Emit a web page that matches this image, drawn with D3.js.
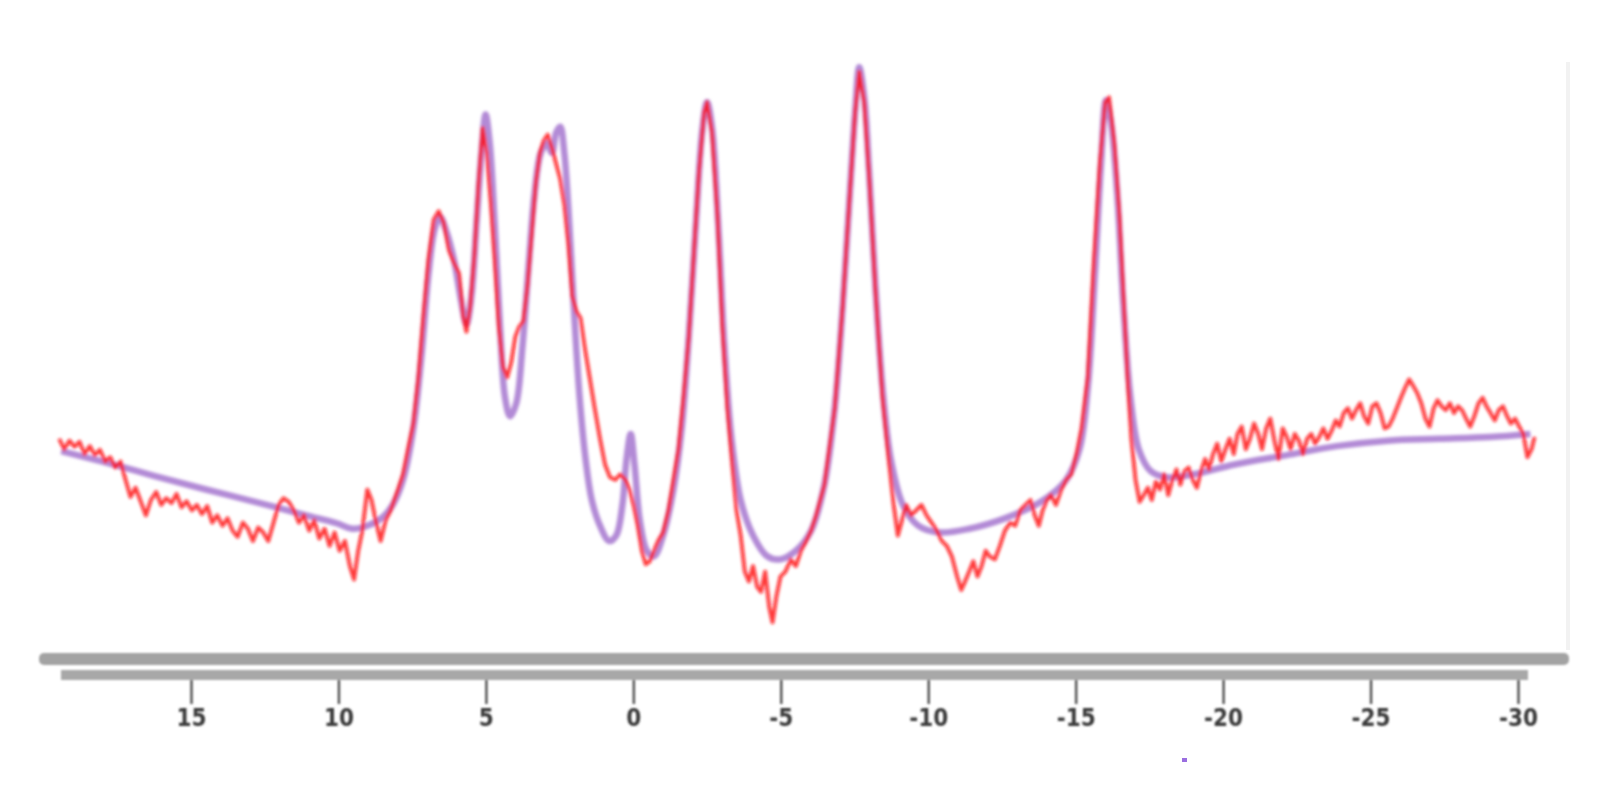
<!DOCTYPE html>
<html>
<head>
<meta charset="utf-8">
<script src="https://cdn.jsdelivr.net/npm/d3@7"></script>
<style>
  html, body { margin: 0; padding: 0; background: #ffffff; }
  svg { display: block; }
</style>
</head>
<body>
<svg id="chart" width="1600" height="800"></svg>
<script>
// Chemical shift (ppm) tick labels
const tickValues = [15, 10, 5, 0, -5, -10, -15, -20, -25, -30];

// Fitted spectrum: [shift ppm, intensity]
const fitted = [
  [19.40,33.0],[18.02,31.3],[16.29,29.0],[14.56,26.8],[12.83,24.7],[11.10,22.5],[10.06,21.2],[9.54,20.3],
  [9.02,20.8],[8.50,22.2],[8.16,24.2],[7.81,28.3],[7.46,36.7],[7.19,48.3],[6.95,61.7],[6.74,69.2],
  [6.56,71.3],[6.36,69.2],[6.08,64.2],[5.84,57.5],[5.66,53.7],[5.49,58.3],[5.32,70.0],[5.15,81.7],
  [5.01,88.0],[4.87,83.3],[4.70,70.0],[4.52,53.3],[4.35,41.7],[4.18,38.7],[3.97,40.8],[3.76,50.0],
  [3.55,63.3],[3.35,75.0],[3.14,81.7],[2.93,83.3],[2.76,81.7],[2.62,85.0],[2.48,86.0],[2.34,81.7],
  [2.17,70.0],[2.00,55.0],[1.82,41.7],[1.62,31.7],[1.41,25.0],[1.13,20.8],[0.82,18.3],[0.58,19.2],
  [0.37,24.2],[0.23,31.7],[0.09,35.8],[-0.04,30.8],[-0.22,21.7],[-0.46,16.7],[-0.70,15.8],[-1.01,19.2],
  [-1.36,26.7],[-1.64,36.7],[-1.88,51.7],[-2.12,70.0],[-2.33,85.0],[-2.50,90.0],[-2.67,85.8],[-2.88,70.0],
  [-3.09,50.0],[-3.33,35.0],[-3.64,25.0],[-4.06,19.2],[-4.54,15.8],[-4.99,15.3],[-5.51,16.7],[-6.03,20.0],
  [-6.48,27.5],[-6.83,40.0],[-7.10,56.7],[-7.34,75.0],[-7.52,88.3],[-7.66,95.7],[-7.83,90.8],[-8.00,78.3],
  [-8.21,60.0],[-8.45,43.3],[-8.73,31.7],[-9.14,24.2],[-9.66,20.8],[-10.35,19.7],[-11.39,20.3],[-12.60,22.0],
  [-13.82,24.7],[-14.68,28.3],[-15.13,33.3],[-15.41,43.3],[-15.65,61.7],[-15.86,80.0],[-16.03,90.3],[-16.20,86.7],
  [-16.41,75.0],[-16.62,56.7],[-16.86,41.7],[-17.14,33.3],[-17.55,29.7],[-18.14,28.7],[-19.00,29.2],[-20.39,30.8],
  [-22.12,32.3],[-23.85,33.8],[-25.58,34.7],[-27.31,35.0],[-29.04,35.3],[-30.42,35.8]
];

// Measured spectrum: [shift ppm, intensity]
const measured = [
  [19.47,35.0],[19.30,33.3],[19.12,34.7],[18.95,33.7],[18.78,34.5],[18.61,32.5],[18.43,33.8],[18.26,32.3],
  [18.09,33.2],[17.91,31.3],[17.74,32.0],[17.57,30.3],[17.39,31.3],[17.22,28.3],[17.05,25.5],[16.88,27.0],
  [16.70,24.7],[16.53,22.5],[16.36,25.0],[16.18,26.3],[16.01,24.2],[15.84,25.3],[15.66,24.5],[15.49,26.0],
  [15.32,23.8],[15.15,24.8],[14.97,23.3],[14.80,24.2],[14.63,22.7],[14.45,24.0],[14.28,21.3],[14.11,22.5],
  [13.93,20.8],[13.76,22.0],[13.59,20.0],[13.42,19.0],[13.24,21.3],[13.07,20.3],[12.90,18.3],[12.72,20.5],
  [12.55,19.7],[12.38,18.3],[12.20,21.3],[12.03,24.2],[11.86,25.3],[11.69,24.7],[11.51,23.3],[11.34,21.3],
  [11.17,22.5],[10.99,20.0],[10.82,21.7],[10.65,18.7],[10.47,20.3],[10.30,17.5],[10.13,19.7],[9.96,16.7],
  [9.78,18.3],[9.61,14.2],[9.47,12.0],[9.33,16.7],[9.19,20.0],[9.02,26.7],[8.88,25.0],[8.74,21.7],
  [8.57,18.3],[8.40,21.7],[8.23,23.3],[7.98,26.7],
  [7.81,29.2],[7.64,33.3],[7.46,37.5],[7.29,45.0],[7.12,55.0],[6.95,64.2],[6.77,70.8],[6.60,72.2],
  [6.43,70.3],[6.25,65.8],[6.08,63.7],[5.91,62.0],[5.77,55.0],[5.66,52.5],[5.53,56.7],[5.39,65.0],
  [5.25,76.7],[5.11,85.8],[4.97,81.7],[4.83,73.3],[4.70,64.2],[4.56,53.3],[4.42,46.7],[4.28,45.0],
  [4.14,47.5],[4.00,51.7],[3.87,53.3],[3.73,54.2],[3.59,60.0],[3.45,68.3],[3.31,76.7],[3.17,81.7],
  [3.04,83.7],[2.90,84.7],[2.76,82.5],[2.62,80.0],[2.48,77.5],[2.34,73.3],[2.20,66.7],[2.07,58.3],
  [1.93,55.8],[1.79,54.7],[1.65,50.0],[1.48,45.0],[1.31,40.0],[1.13,35.0],[0.96,30.8],[0.79,28.7],
  [0.61,28.3],[0.44,29.2],[0.27,28.3],[0.13,26.7],[-0.01,24.2],[-0.15,20.8],[-0.29,16.7],[-0.42,14.5],
  [-0.56,15.0],[-0.70,16.7],[-0.84,18.3],[-1.01,19.7],[-1.19,23.3],[-1.36,28.3],[-1.53,33.3],[-1.70,41.7],
  [-1.88,51.7],[-2.05,65.0],[-2.22,78.3],[-2.40,88.3],[-2.50,90.0],[-2.67,85.0],[-2.85,71.7],[-3.02,53.3],
  [-3.19,40.0],[-3.37,30.0],[-3.50,23.3],[-3.64,19.2],[-3.78,13.3],[-3.92,11.7],[-4.06,14.2],[-4.20,10.8],
  [-4.33,10.0],[-4.47,13.3],[-4.61,7.5],[-4.72,5.0],[-4.85,9.2],[-4.99,12.5],[-5.16,13.3],[-5.34,15.3],
  [-5.51,14.2],[-5.68,16.7],[-5.86,18.3],[-6.03,20.0],[-6.20,22.5],[-6.48,27.5],[-6.83,40.0],[-7.10,56.7],
  [-7.34,75.0],[-7.52,88.3],[-7.66,95.0],[-7.83,90.0],[-8.00,77.5],[-8.21,59.2],[-8.45,41.7],[-8.66,31.7],
  [-8.83,24.2],[-8.97,19.2],[-9.11,21.7],[-9.25,24.2],[-9.42,22.5],[-9.59,23.3],[-9.77,24.2],[-9.94,22.5],
  [-10.11,21.3],[-10.29,20.0],[-10.46,18.3],[-10.63,17.5],[-10.80,15.8],[-10.98,12.5],[-11.12,10.3],[-11.25,11.7],
  [-11.39,13.3],[-11.53,15.0],[-11.67,12.5],[-11.81,14.2],[-11.95,16.7],[-12.08,15.8],[-12.26,15.3],[-12.43,17.5],
  [-12.60,20.0],[-12.78,21.3],[-12.95,20.8],[-13.12,23.3],[-13.30,24.2],[-13.47,25.0],[-13.61,22.5],[-13.75,20.8],
  [-13.88,23.3],[-14.02,25.0],[-14.16,25.8],[-14.33,24.2],[-14.51,26.7],[-14.68,28.3],[-14.85,29.2],[-15.03,32.5],
  [-15.20,36.7],[-15.41,45.0],[-15.61,63.3],[-15.82,80.0],[-16.00,90.0],[-16.13,90.8],[-16.31,83.3],[-16.48,71.7],
  [-16.62,58.3],[-16.76,45.0],[-16.89,35.0],[-17.03,28.3],[-17.17,24.7],[-17.31,25.8],[-17.45,27.0],[-17.58,25.0],
  [-17.72,28.0],[-17.86,26.7],[-18.00,29.2],[-18.14,25.8],[-18.28,28.3],[-18.42,30.0],[-18.55,27.5],[-18.69,29.7],
  [-18.83,30.3],[-18.97,28.3],[-19.11,27.0],[-19.25,29.7],[-19.39,31.7],[-19.52,30.0],[-19.66,32.5],[-19.80,34.2],
  [-19.94,31.3],[-20.08,33.3],[-20.22,35.0],[-20.36,32.5],[-20.49,35.8],[-20.63,37.0],[-20.77,33.3],[-20.91,35.0],
  [-21.05,37.5],[-21.19,35.8],[-21.32,33.3],[-21.46,36.7],[-21.60,38.3],[-21.74,34.7],[-21.88,31.7],[-22.02,36.7],
  [-22.16,35.3],[-22.29,33.3],[-22.43,35.8],[-22.57,34.7],[-22.71,32.5],[-22.85,35.0],[-22.99,35.8],[-23.12,34.2],
  [-23.26,35.3],[-23.40,36.7],[-23.54,35.0],[-23.68,36.3],[-23.82,38.0],[-23.95,37.0],[-24.09,39.2],[-24.23,40.0],
  [-24.37,38.3],[-24.51,39.7],[-24.65,40.8],[-24.78,38.7],[-24.92,37.5],[-25.06,40.3],[-25.20,40.8],[-25.34,39.2],
  [-25.48,36.7],[-25.61,37.0],[-25.75,38.3],[-25.89,40.0],[-26.03,41.7],[-26.17,43.3],[-26.31,44.7],[-26.44,43.7],
  [-26.58,42.5],[-26.72,40.8],[-26.86,38.3],[-27.00,37.0],[-27.14,40.0],[-27.27,41.3],[-27.41,40.3],[-27.55,39.7],
  [-27.69,40.8],[-27.83,39.2],[-27.97,40.3],[-28.10,39.7],[-28.24,38.3],[-28.38,37.0],[-28.52,38.7],[-28.66,40.8],
  [-28.80,41.7],[-28.93,40.3],[-29.07,39.2],[-29.21,38.0],[-29.35,39.7],[-29.49,40.3],[-29.63,38.7],[-29.76,37.5],
  [-29.90,38.3],[-30.04,37.0],[-30.18,35.8],[-30.32,32.0],[-30.46,33.3],[-30.56,35.3]
];

const svg = d3.select("#chart");

const defs = svg.append("defs");
defs.append("filter").attr("id", "soft").attr("x", "-5%").attr("y", "-5%").attr("width", "110%").attr("height", "110%")
  .append("feGaussianBlur").attr("stdDeviation", 1.5);
defs.append("filter").attr("id", "softer").attr("x", "-5%").attr("y", "-50%").attr("width", "110%").attr("height", "200%")
  .append("feGaussianBlur").attr("stdDeviation", 1.1);

const x = d3.scaleLinear().domain([15, -30]).range([191, 1518]);
const y = d3.scaleLinear().domain([0, 100]).range([653, 41]);

// faint right frame line
svg.append("line")
  .attr("x1", 1568).attr("x2", 1568).attr("y1", 62).attr("y2", 650)
  .attr("stroke", "#f2f2f2").attr("stroke-width", 4);

const plot = svg.append("g").attr("filter", "url(#soft)");

plot.append("path")
  .datum(fitted)
  .attr("fill", "none")
  .attr("stroke", "#b28ad6")
  .attr("stroke-width", 6.5)
  .attr("stroke-linejoin", "round")
  .attr("d", d3.line().x(d => x(d[0])).y(d => y(d[1])).curve(d3.curveCatmullRom.alpha(0.5)));

plot.append("path")
  .datum(measured)
  .attr("fill", "none")
  .attr("stroke", "#ff0a14")
  .attr("stroke-opacity", 0.82)
  .attr("stroke-width", 3.8)
  .attr("stroke-linejoin", "round")
  .attr("d", d3.line().x(d => x(d[0])).y(d => y(d[1])));

// axis: double gray bar, ticks and labels
const axisG = svg.append("g").attr("filter", "url(#softer)");
axisG.append("rect").attr("x", 39).attr("y", 653).attr("width", 1530).attr("height", 12)
  .attr("rx", 5).attr("fill", "#a3a3a3");
axisG.append("rect").attr("x", 61).attr("y", 670).attr("width", 1467).attr("height", 10)
  .attr("fill", "#a8a8a8");

const axis = d3.axisBottom(x)
  .tickValues(tickValues)
  .tickSize(24)
  .tickPadding(5)
  .tickFormat(d => String(d));

const ax = axisG.append("g").attr("transform", "translate(0,680)").call(axis);
ax.select(".domain").remove();
ax.selectAll(".tick line").attr("stroke", "#555").attr("stroke-width", 2.5);
ax.selectAll(".tick text")
  .attr("fill", "#3a3a3a")
  .attr("font-family", "'Liberation Sans Narrow', 'DejaVu Sans Condensed', sans-serif")
  .attr("font-weight", "bold")
  .attr("font-size", 24);

// tiny stray legend mark
svg.append("rect").attr("x", 1182).attr("y", 758).attr("width", 5).attr("height", 4)
  .attr("fill", "#9a6ee0");
</script>
</body>
</html>
